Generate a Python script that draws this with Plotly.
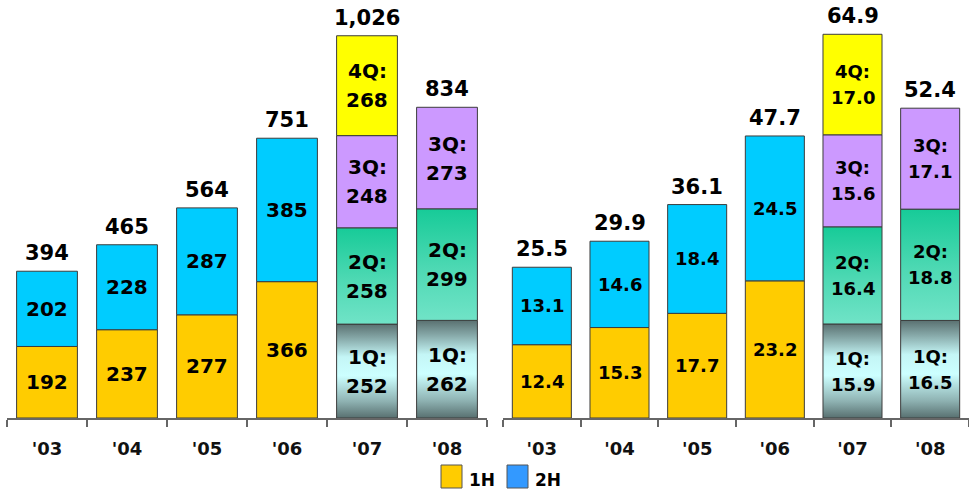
import plotly.graph_objects as go

# Categories
years = ["'03", "'04", "'05", "'06", "'07", "'08"]
half_years = ["'03", "'04", "'05", "'06"]
quarter_years = ["'07", "'08"]

# Left panel: half-year and quarterly values
left_1h = [192, 237, 277, 366]
left_2h = [202, 228, 287, 385]
left_1q = [252, 262]
left_2q = [258, 299]
left_3q = [248, 273]
left_4q = [268, None]

# Right panel: half-year and quarterly values
right_1h = [12.4, 15.3, 17.7, 23.2]
right_2h = [13.1, 14.6, 18.4, 24.5]
right_1q = [15.9, 16.5]
right_2q = [16.4, 18.8]
right_3q = [15.6, 17.1]
right_4q = [17.0, None]

FONT = "DejaVu Sans"
C_1H = "#FFCC00"
C_2H = "#00CCFF"
C_2H_KEY = "#3399FF"
C_3Q = "#CC99FF"
C_4Q = "#FFFF00"
EDGE = "#3c3c3c"
AXIS = "#666666"
BAR_W = 0.76
HW = BAR_W / 2

# vertical gradients (0 = bottom of the segment)
CS_1Q = [[0.0, "#587070"], [0.18, "#8fb3b3"], [0.45, "#ccffff"],
         [0.65, "#c4f6f6"], [0.85, "#86a8a8"], [1.0, "#5a7171"]]
CS_2Q = [[0.0, "#70e3c7"], [0.45, "#4fd9b4"], [1.0, "#17cb98"]]

fig = go.Figure()
annotations = []


def add_panel(suffix, h1, h2, q1, q2, q3, q4, fmt, seg_size, q_shift):
    xa, ya = "x" + suffix, "y" + suffix
    pos_h = [years.index(y) for y in half_years]
    pos_q = [years.index(y) for y in quarter_years]
    line = dict(color=EDGE, width=1)

    fig.add_trace(go.Bar(x=pos_h, y=h1, base=[0] * len(h1), width=BAR_W,
                         marker=dict(color=C_1H, line=line), xaxis=xa, yaxis=ya,
                         showlegend=False, hoverinfo="skip"))
    fig.add_trace(go.Bar(x=pos_h, y=h2, base=h1, width=BAR_W,
                         marker=dict(color=C_2H, line=line), xaxis=xa, yaxis=ya,
                         showlegend=False, hoverinfo="skip"))
    base3 = [a + b for a, b in zip(q1, q2)]
    fig.add_trace(go.Bar(x=pos_q, y=q3, base=base3, width=BAR_W,
                         marker=dict(color=C_3Q, line=line), xaxis=xa, yaxis=ya,
                         showlegend=False, hoverinfo="skip"))
    x4 = [p for p, v in zip(pos_q, q4) if v is not None]
    y4 = [v for v in q4 if v is not None]
    b4 = [b + c for b, c, v in zip(base3, q3, q4) if v is not None]
    fig.add_trace(go.Bar(x=x4, y=y4, base=b4, width=BAR_W,
                         marker=dict(color=C_4Q, line=line), xaxis=xa, yaxis=ya,
                         showlegend=False, hoverinfo="skip"))

    # gradient-filled 1Q and 2Q segments
    for p, a, b in zip(pos_q, q1, q2):
        for lo, hi, cs in ((0, a, CS_1Q), (a, a + b, CS_2Q)):
            fig.add_trace(go.Scatter(
                x=[p - HW, p + HW, p + HW, p - HW, p - HW],
                y=[lo, lo, hi, hi, lo], mode="lines", fill="toself",
                fillgradient=dict(type="vertical", colorscale=cs),
                line=dict(color=EDGE, width=1), xaxis=xa, yaxis=ya,
                showlegend=False, hoverinfo="skip"))

    seg_font = dict(family=FONT, size=seg_size, color="black", weight="bold")
    tot_font = dict(family=FONT, size=21, color="black", weight="bold")

    # half-year labels and totals
    for p, a, b in zip(pos_h, h1, h2):
        for mid, v in ((a / 2, a), (a + b / 2, b)):
            annotations.append(dict(x=p, y=mid, xref=xa, yref=ya, text=fmt(v),
                                    showarrow=False, font=seg_font))
        annotations.append(dict(x=p, y=a + b, xref=xa, yref=ya, text=fmt(a + b),
                                showarrow=False, font=tot_font, yshift=18))

    # quarterly labels and totals
    for i, p in enumerate(pos_q):
        vals = [q1[i], q2[i], q3[i], q4[i]]
        lo = 0
        for k, v in enumerate(vals):
            if v is None:
                continue
            mid = lo + v / 2
            annotations.append(dict(x=p, y=mid, xref=xa, yref=ya, text=f"{k + 1}Q:",
                                    showarrow=False, font=seg_font, yshift=q_shift))
            annotations.append(dict(x=p, y=mid, xref=xa, yref=ya, text=fmt(v),
                                    showarrow=False, font=seg_font, yshift=-q_shift))
            lo += v
        annotations.append(dict(x=p, y=lo, xref=xa, yref=ya, text=fmt(lo),
                                showarrow=False, font=tot_font, yshift=18))


add_panel("", left_1h, left_2h, left_1q, left_2q, left_3q, left_4q,
          lambda v: f"{v:,.0f}", 20, 14.5)
add_panel("2", right_1h, right_2h, right_1q, right_2q, right_3q, right_4q,
          lambda v: f"{v:.1f}", 18, 13)

W, H = 969, 490
xaxis_common = dict(
    range=[-0.5, 5.5], tickmode="array", tickvals=list(range(len(years))),
    ticktext=years, ticks="", showline=True, linecolor=AXIS, linewidth=1.5,
    showgrid=False, zeroline=False, fixedrange=True, ticklabelstandoff=14,
    tickfont=dict(family=FONT, size=18, color="#111111", weight="bold"),
    minor=dict(tick0=-0.5, dtick=1, ticks="outside", ticklen=7,
               tickcolor=AXIS, tickwidth=1.5, showgrid=False),
)
yaxis_common = dict(visible=False, showgrid=False, zeroline=False, fixedrange=True)

# legend keys
legend_items = [("1H", C_1H, 441), ("2H", C_2H_KEY, 507)]
shapes = []
for label, color, px in legend_items:
    shapes.append(dict(type="rect", xref="paper", yref="paper",
                       x0=px / W, x1=(px + 21) / W, y0=1 - 488 / H, y1=1 - 465 / H,
                       fillcolor=color, line=dict(color="#555555", width=1)))
    annotations.append(dict(x=(px + 26) / W, y=1 - 480 / H, xref="paper", yref="paper",
                            xanchor="left", yanchor="middle", text=label, showarrow=False,
                            font=dict(family=FONT, size=17, color="black", weight="bold")))

fig.update_layout(
    width=W, height=H, margin=dict(l=0, r=0, t=0, b=0),
    paper_bgcolor="white", plot_bgcolor="white", barmode="overlay",
    xaxis=dict(domain=[7 / W, 487 / W], anchor="y", **xaxis_common),
    yaxis=dict(domain=[72 / H, 1], range=[0, 1122], anchor="x", **yaxis_common),
    xaxis2=dict(domain=[503 / W, 1], anchor="y2", **xaxis_common),
    yaxis2=dict(domain=[72 / H, 1], range=[0, 70.7], anchor="x2", **yaxis_common),
    annotations=annotations, shapes=shapes, showlegend=False,
)

fig.write_html("out.html")
